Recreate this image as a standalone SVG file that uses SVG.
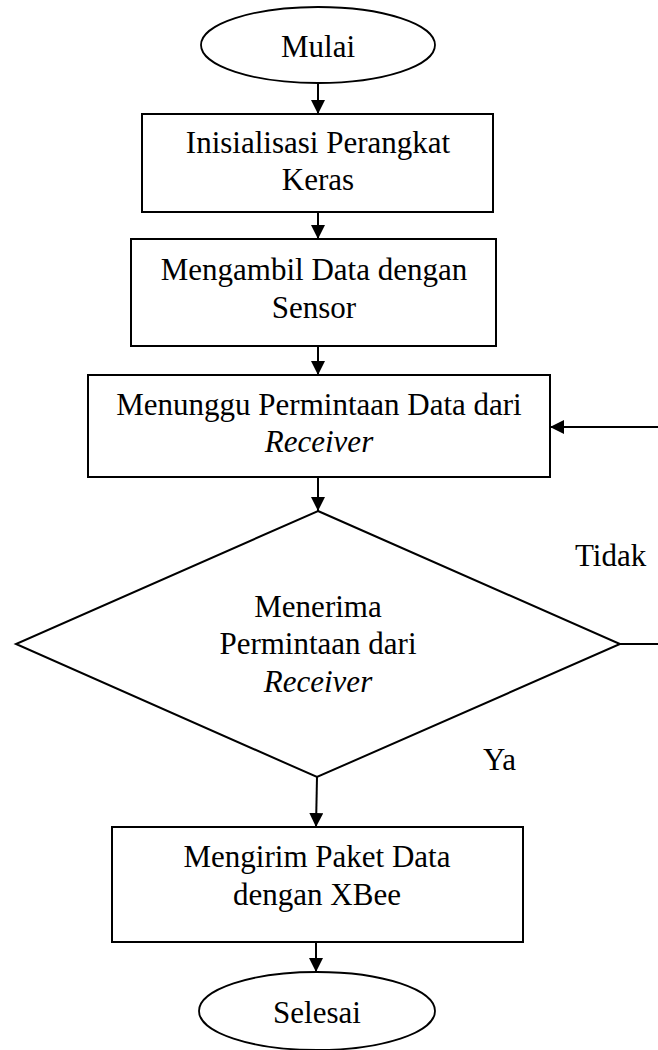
<svg xmlns="http://www.w3.org/2000/svg" width="658" height="1050" viewBox="0 0 658 1050">
  <style>
    .shape { fill: #ffffff; stroke: #000000; stroke-width: 2; }
    .term { fill: #ffffff; stroke: #000000; stroke-width: 1.8; }
    .txt { font-family: "Liberation Serif", "Times New Roman", serif; font-size: 31px; fill: #000000; text-anchor: middle; }
    .lbl { font-family: "Liberation Serif", "Times New Roman", serif; font-size: 31px; fill: #000000; }
    .it { font-style: italic; }
    .conn { fill: none; stroke: #000000; stroke-width: 2; }
  </style>
  <defs>
    <marker id="arrow" markerWidth="14" markerHeight="14" refX="14" refY="7" orient="auto" markerUnits="userSpaceOnUse">
      <path d="M0,0 L14,7 L0,14 Z" fill="#000000"/>
    </marker>
  </defs>
  <rect width="658" height="1050" fill="#ffffff"/>

  <!-- connectors -->
  <g id="connectors">
    <line class="conn" x1="318" y1="83" x2="318" y2="114" marker-end="url(#arrow)"/>
    <line class="conn" x1="318" y1="212" x2="318" y2="239" marker-end="url(#arrow)"/>
    <line class="conn" x1="318" y1="346" x2="318" y2="375" marker-end="url(#arrow)"/>
    <line class="conn" x1="318" y1="477" x2="318" y2="511" marker-end="url(#arrow)"/>
    <line class="conn" x1="317" y1="777" x2="316" y2="827" marker-end="url(#arrow)"/>
    <line class="conn" x1="316" y1="942" x2="316" y2="972" marker-end="url(#arrow)"/>
    <!-- "Tidak" loop back to the waiting step (vertical run lies past the right edge) -->
    <path class="conn" d="M620,644 H672 V427 H550" marker-end="url(#arrow)"/>
    <text class="lbl" x="575" y="566">Tidak</text>
    <text class="lbl" x="483" y="770">Ya</text>
  </g>

  <g id="start">
    <ellipse class="term" cx="318" cy="45" rx="117" ry="38"/>
    <text class="txt" x="318" y="57">Mulai</text>
  </g>

  <g id="init">
    <rect class="shape" x="142" y="114" width="351" height="98"/>
    <text class="txt" x="318" y="153">Inisialisasi Perangkat</text>
    <text class="txt" x="318" y="190">Keras</text>
  </g>

  <g id="sensor">
    <rect class="shape" x="131" y="239" width="365" height="107"/>
    <text class="txt" x="314" y="280">Mengambil Data dengan</text>
    <text class="txt" x="314" y="318">Sensor</text>
  </g>

  <g id="wait">
    <rect class="shape" x="88" y="375" width="462" height="102"/>
    <text class="txt" x="319" y="415">Menunggu Permintaan Data dari</text>
    <text class="txt it" x="319" y="452">Receiver</text>
  </g>

  <g id="decision">
    <polygon class="shape" points="318,511 620,644 317,777 16,644"/>
    <text class="txt" x="318" y="617">Menerima</text>
    <text class="txt" x="318" y="654">Permintaan dari</text>
    <text class="txt it" x="318" y="692">Receiver</text>
  </g>

  <g id="send">
    <rect class="shape" x="112" y="827" width="411" height="115"/>
    <text class="txt" x="317" y="867">Mengirim Paket Data</text>
    <text class="txt" x="317" y="905">dengan XBee</text>
  </g>

  <g id="end">
    <ellipse class="term" cx="317" cy="1011" rx="118" ry="39"/>
    <text class="txt" x="317" y="1023">Selesai</text>
  </g>
</svg>
